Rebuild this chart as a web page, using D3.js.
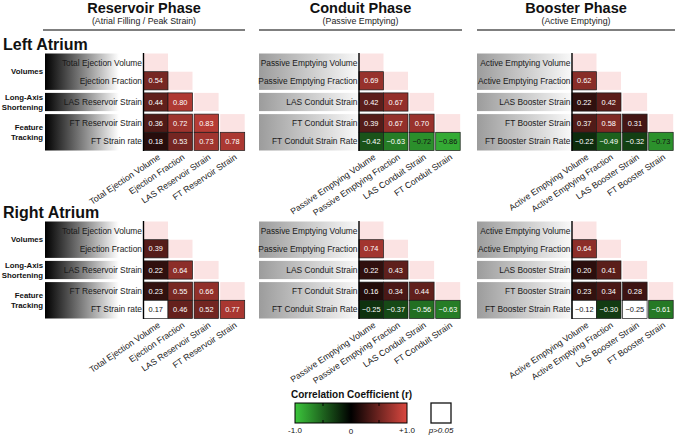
<!DOCTYPE html>
<html>
<head>
<meta charset="utf-8">
<script src="https://cdn.jsdelivr.net/npm/d3@7"></script>
<style>
  body { margin: 0; background: #fff; }
  svg { font-family: "Liberation Sans", Arial, Helvetica, sans-serif; }
</style>
</head>
<body>
<svg id="chart" width="676" height="436"></svg>
<script>
// phase headers
const phaseTitles = ["Reservoir Phase", "Conduit Phase", "Booster Phase"];
const phaseSubtitles = ["(Atrial Filling / Peak Strain)", "(Passive Emptying)", "(Active Emptying)"];
const atriumNames = ["Left Atrium", "Right Atrium"];

// variables (rows) per phase
const reservoirVars = ["Total Ejection Volume", "Ejection Fraction", "LAS Reservoir Strain", "FT Reservoir Strain", "FT Strain rate"];
const conduitVars = ["Passive Emptying Volume", "Passive Emptying Fraction", "LAS Conduit Strain", "FT Conduit Strain", "FT Conduit Strain Rate"];
const boosterVars = ["Active Emptying Volume", "Active Emptying Fraction", "LAS Booster Strain", "FT Booster Strain", "FT Booster Strain Rate"];

const groupNames = [["Volumes"], ["Long-Axis", "Shortening"], ["Feature", "Tracking"]];
const groupSizes = [2, 1, 2];

// lower triangle, rows 2..5 (row 1 only has the diagonal)
const laReservoir = [[0.54], [0.44, 0.80], [0.36, 0.72, 0.83], [0.18, 0.53, 0.73, 0.78]];
const laConduit = [[0.69], [0.42, 0.67], [0.39, 0.67, 0.70], [-0.42, -0.63, -0.72, -0.86]];
const laBooster = [[0.62], [0.22, 0.42], [0.37, 0.58, 0.31], [-0.22, -0.49, -0.32, -0.73]];
const raReservoir = [[0.39], [0.22, 0.64], [0.23, 0.55, 0.66], [0.17, 0.46, 0.52, 0.77]];
const raConduit = [[0.74], [0.22, 0.43], [0.16, 0.34, 0.44], [-0.25, -0.37, -0.56, -0.63]];
const raBooster = [[0.64], [0.20, 0.41], [0.23, 0.34, 0.28], [-0.12, -0.30, -0.25, -0.61]];

// [row, col] of cells with p > 0.05
const raReservoirNS = [[4, 0]];
const raBoosterNS = [[4, 0], [4, 2]];

const legendTicks = [-1, 0, 1];
const legendTickLabels = ["-1.0", "0", "+1.0"];

const svg = d3.select("#chart");
const defs = svg.append("defs");

const color = d3.scaleLinear().domain([-1, 0, 1]).range(["#3cc63c", "#000000", "#db4840"]).clamp(true);

const rowH = 18.2, rowGap = 3, cellW = 24.5, colGap = 1.6;
const atriumTop = [53.5, 221.5];

// panel layout: header rule, label gradient start, matrix left edge
const panels = [
    { vars: reservoirVars, rule: [43, 245], gradX: 45, x0: 143.5, dark: true },
    { vars: conduitVars, rule: [259, 462], gradX: 259, x0: 359, dark: false },
    { vars: boosterVars, rule: [477, 675], gradX: 477, x0: 572, dark: false }
];
const values = [[laReservoir, laConduit, laBooster], [raReservoir, raConduit, raBooster]];
const nsCells = [[[], [], []], [raReservoirNS, [], raBoosterNS]];

// which group each row index belongs to
const rowGroup = [];
groupSizes.forEach((n, g) => { for (let i = 0; i < n; i++) rowGroup.push(g); });

const rowBand = d3.scaleBand().domain(d3.range(5)).range([0, 5 * rowH]);
const colBand = d3.scaleBand().domain(d3.range(4)).range([0, 4 * cellW]);
const rowY = (i) => rowBand(i) + rowGroup[i] * rowGap;
const colX = (j) => colBand(j) + rowGroup[j] * colGap;

// gradients
const gDark = defs.append("linearGradient").attr("id", "gradDark");
gDark.append("stop").attr("offset", "0%").attr("stop-color", "#000");
gDark.append("stop").attr("offset", "75%").attr("stop-color", "#fff");
const gGray = defs.append("linearGradient").attr("id", "gradGray");
gGray.append("stop").attr("offset", "0%").attr("stop-color", "#9c9c9c");
gGray.append("stop").attr("offset", "100%").attr("stop-color", "#f9f9f9");

// headers
panels.forEach((p, k) => {
    const cx = (p.rule[0] + p.rule[1]) / 2;
    svg.append("text").attr("x", cx).attr("y", 12.5).attr("text-anchor", "middle")
        .style("font-size", "14.5px").style("font-weight", "bold").style("fill", "#111")
        .text(phaseTitles[k]);
    svg.append("text").attr("x", cx).attr("y", 23.5).attr("text-anchor", "middle")
        .style("font-size", "8.8px").style("fill", "#222")
        .text(phaseSubtitles[k]);
    svg.append("line").attr("x1", p.rule[0]).attr("x2", p.rule[1]).attr("y1", 30).attr("y2", 30)
        .attr("stroke", "#555").attr("stroke-width", 1.5);
});

atriumNames.forEach((name, a) => {
    const top = atriumTop[a];
    svg.append("text").attr("x", 3).attr("y", top - 4)
        .style("font-size", "16px").style("font-weight", "bold").style("fill", "#111")
        .text(name);

    // group labels on the left
    let start = 0;
    groupSizes.forEach((n, g) => {
        const yMid = top + rowY(start) + n * rowH / 2;
        const lines = groupNames[g];
        lines.forEach((ln, li) => {
            svg.append("text").attr("x", 43)
                .attr("y", yMid + (li - (lines.length - 1) / 2) * 10)
                .attr("dy", "0.35em").attr("text-anchor", "end")
                .style("font-size", "7.8px").style("font-weight", "bold").style("fill", "#111")
                .text(ln);
        });
        start += n;
    });

    panels.forEach((p, k) => {
        const g = svg.append("g").attr("transform", `translate(${p.x0},${top})`);
        const data = values[a][k];
        const ns = nsCells[a][k];

        // label backgrounds per group
        let s = 0;
        groupSizes.forEach((n) => {
            g.append("rect").attr("x", p.gradX - p.x0).attr("y", rowY(s))
                .attr("width", p.x0 - p.gradX).attr("height", n * rowH)
                .attr("fill", p.dark ? "url(#gradDark)" : "url(#gradGray)");
            s += n;
        });

        // row labels
        p.vars.forEach((v, i) => {
            g.append("text").attr("x", -1.5).attr("y", rowY(i) + rowH / 2).attr("dy", "0.35em")
                .attr("text-anchor", "end").style("font-size", "8.4px").style("fill", "#1a1a1a")
                .text(v);
        });

        // diagonal cells
        g.selectAll("rect.diag").data(d3.range(4)).join("rect").attr("class", "diag")
            .attr("x", j => colX(j)).attr("y", j => rowY(j))
            .attr("width", cellW).attr("height", rowH)
            .attr("fill", "#fbe3e3");

        // correlation cells
        const cells = [];
        data.forEach((row, r) => row.forEach((v, c) => {
            const isNS = ns.some(d => d[0] === r + 1 && d[1] === c);
            cells.push({ row: r + 1, col: c, v: v, ns: isNS });
        }));
        const cg = g.selectAll("g.cell").data(cells).join("g").attr("class", "cell")
            .attr("transform", d => `translate(${colX(d.col)},${rowY(d.row)})`);
        cg.append("rect").attr("width", cellW).attr("height", rowH)
            .attr("fill", d => d.ns ? "#fff" : color(d.v))
            .attr("stroke", "#1a1a1a").attr("stroke-width", 0.7);
        cg.append("text").attr("x", cellW / 2).attr("y", rowH / 2).attr("dy", "0.35em")
            .attr("text-anchor", "middle").style("font-size", "7.4px")
            .style("fill", d => (d.ns || d.v <= -0.7) ? "#111" : "#fff")
            .text(d => d3.format(".2f")(d.v));

        // left axis line
        const bottom = rowY(4) + rowH;
        g.append("line").attr("x1", 0).attr("x2", 0).attr("y1", -0.5).attr("y2", bottom + 0.5)
            .attr("stroke", "#000").attr("stroke-width", 1.4);

        // column labels
        p.vars.slice(0, 4).forEach((v, j) => {
            const lx = colX(j) + cellW / 2 + 5, ly = bottom + 8;
            g.append("text").attr("transform", `translate(${lx},${ly}) rotate(-34)`)
                .attr("text-anchor", "end").style("font-size", "8.7px").style("fill", "#1a1a1a")
                .text(v);
        });
    });
});

// legend
const lx0 = 295, lx1 = 407, ly0 = 403, lh = 20;
const lg = defs.append("linearGradient").attr("id", "legendGrad");
lg.selectAll("stop").data(d3.range(-1, 1.01, 0.25)).join("stop")
    .attr("offset", d => `${(d + 1) * 50}%`).attr("stop-color", d => color(d));
const legendScale = d3.scaleLinear().domain([-1, 1]).range([lx0, lx1]);

svg.append("text").attr("x", 291).attr("y", 398)
    .style("font-size", "10px").style("font-weight", "bold").style("fill", "#111")
    .text("Correlation Coefficient (r)");
svg.append("rect").attr("x", lx0).attr("y", ly0).attr("width", lx1 - lx0).attr("height", lh)
    .attr("fill", "url(#legendGrad)").attr("stroke", "#000").attr("stroke-width", 1);
[-0.5, 0.5].forEach(t => {
    svg.append("line").attr("x1", legendScale(t)).attr("x2", legendScale(t))
        .attr("y1", ly0).attr("y2", ly0 + 3).attr("stroke", "#000").attr("stroke-width", 1);
    svg.append("line").attr("x1", legendScale(t)).attr("x2", legendScale(t))
        .attr("y1", ly0 + lh - 3).attr("y2", ly0 + lh).attr("stroke", "#000").attr("stroke-width", 1);
});
legendTicks.forEach((t, i) => {
    svg.append("text").attr("x", legendScale(t)).attr("y", ly0 + lh + 10 + (t === 0 ? 1 : 0))
        .attr("text-anchor", "middle").style("font-size", "8px").style("fill", "#111")
        .text(legendTickLabels[i]);
});
svg.append("rect").attr("x", 431).attr("y", ly0).attr("width", 20).attr("height", lh)
    .attr("fill", "#fff").attr("stroke", "#111").attr("stroke-width", 1.3);
svg.append("text").attr("x", 441).attr("y", ly0 + lh + 10).attr("text-anchor", "middle")
    .style("font-size", "8px").style("font-style", "italic").style("fill", "#111")
    .text("p>0.05");
</script>
</body>
</html>
